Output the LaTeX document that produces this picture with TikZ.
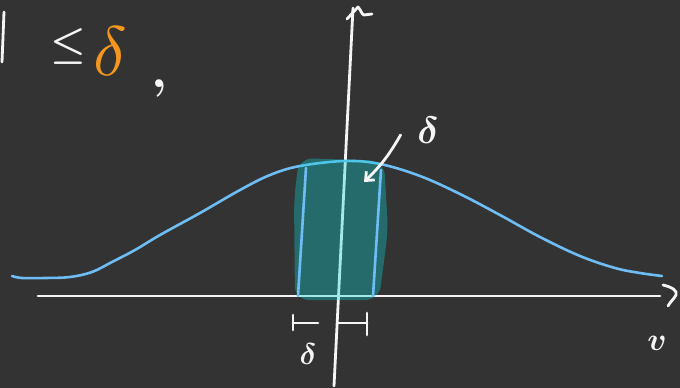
\documentclass[tikz,border=0pt]{standalone}
\usetikzlibrary{arrows.meta}
\definecolor{bg}{RGB}{51,51,51}
\definecolor{curveblue}{RGB}{110,190,245}
\definecolor{tealfill}{RGB}{14,212,212}
\definecolor{orng}{RGB}{245,150,30}
\definecolor{chalk}{RGB}{245,245,245}
\begin{document}
\begin{tikzpicture}[x=1pt,y=-1pt, line cap=round, line join=round,
  chalkline/.style={draw=chalk, line width=2.8pt},
  blueline/.style={draw=curveblue, line width=2.6pt},
  lab/.style={text=chalk, inner sep=0pt},
  boldlab/.style={lab, font=\boldmath}]
\fill[bg] (0,0) rectangle (680,388);
\useasboundingbox (0,0) rectangle (680,388);
% fragment of bar at left edge
\draw[chalkline] (4,12) -- (2,62);
% axes
\draw[chalkline] (38,296) -- (660,296);
\draw[chalkline] (663,285) .. controls (672,287) and (678,291) .. (676,295) .. controls (674,299) and (670,302) .. (668,306);
\draw[chalkline] (334,386) -- (353,8);
\draw[chalkline] (347,19) -- (358,7) .. controls (361,10) and (362,15) .. (364,15) -- (372,14);
% bell curve
\draw[blueline] plot[smooth, tension=0.6] coordinates {(12,276) (22,278) (45,278) (70,277) (92,272) (112,262) (135,250) (160,235) (200,213) (240,190) (270,175) (300,166) (345,161) (380,164) (420,176) (460,194) (500,215) (540,237) (580,256) (615,268) (640,273) (662,276)};
% shaded strip
\fill[tealfill, fill opacity=0.35, rounded corners=14pt] (299,158) -- (384,161) -- (388,230) -- (379,300) -- (295,300) -- (294,200) -- cycle;
\draw[blueline] (306,168) -- (298,296);
\draw[blueline] (381,170) -- (373,296);
% interval marks
\draw[chalkline] (293,315) -- (293,330);
\draw[chalkline] (293,323) -- (318,323);
\draw[chalkline] (367,313) -- (367,335);
\draw[chalkline] (338,323) -- (367,323);
% labels
\node[boldlab, scale=4] (le) at (68,46) {$\leq$};
\node[lab, text=orng, scale=7] (dor) at (110,51) {$\delta$};
\node[boldlab, scale=5] (cm) at (159,88) {$,$};
\node[boldlab, scale=3.8] (dlab) at (428,130) {$\delta$};
\node[boldlab, scale=3.0] (dlow) at (308,354) {$\delta$};
\node[boldlab, scale=3.2] (vlab) at (657,343) {$v$};
% pointer arrow
\coordinate (dtip) at (364,182);
\draw[chalkline, -{Straight Barb[length=7pt,width=12pt]}] ([xshift=-16pt,yshift=9pt]dlab.south west) to[bend left=8] (dtip);
\end{tikzpicture}
\end{document}
